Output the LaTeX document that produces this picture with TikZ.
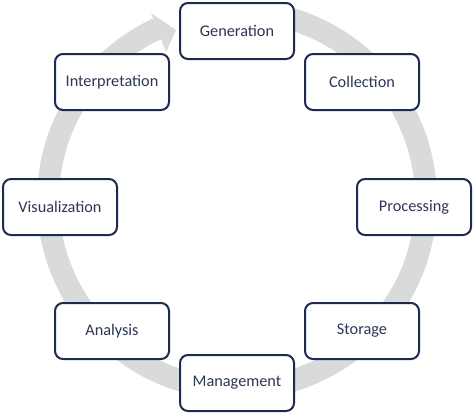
\documentclass[tikz,border=0pt]{standalone}
\usepackage{fontspec}
\setmainfont{Carlito}
\usetikzlibrary{calc}
\definecolor{ringgray}{RGB}{216,219,217}
\definecolor{boxline}{RGB}{31,42,80}
\definecolor{txt}{RGB}{45,55,85}
\begin{document}
\begin{tikzpicture}[x=0.75pt,y=-0.75pt,
  stage/.style={draw=boxline, line width=1.5pt, rounded corners=6pt, fill=white,
    minimum width=85.5pt, minimum height=42pt, inner sep=0pt,
    text=txt, font=\fontsize{12.2}{14}\selectfont}]
\useasboundingbox (0,0) rectangle (474,415);
\coordinate (C) at (237,200);
% cycle ring with arrowhead
\draw[ringgray, line width=16.5pt] ($(C)+(-80:189)$) arc[start angle=-80, end angle=245.2, radius=189];
\coordinate (hO) at (151,13);
\coordinate (hT) at (176,30);
\coordinate (hI) at (166,52);
\fill[ringgray] (hO) -- (hT) -- (hI) -- cycle;
% stages
\node[stage] (gen) at (237,31) {Generation};
\node[stage] (col) at (362,82) {Collection};
\node[stage] (pro) at (414,207) {Processing};
\node[stage] (sto) at (362,331) {Storage};
\node[stage] (man) at (237,383) {Management};
\node[stage] (ana) at (112,331) {Analysis};
\node[stage] (vis) at (60,207) {Visualization};
\node[stage] (int) at (112,82) {Interpretation};
\end{tikzpicture}
\end{document}
